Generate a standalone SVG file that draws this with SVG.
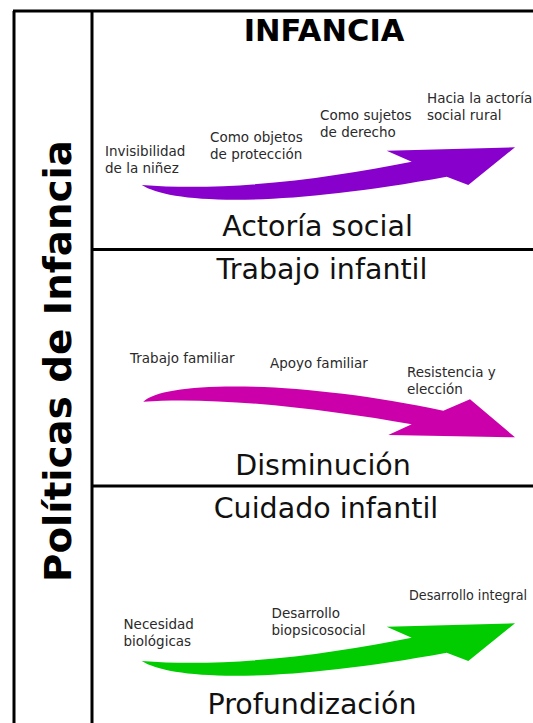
<svg xmlns="http://www.w3.org/2000/svg" width="533" height="723" viewBox="0 0 533 723">
<style>
.frame{stroke:#000;stroke-width:3;fill:none}
.big{font-family:"DejaVu Sans",Verdana,sans-serif;font-size:28.5px;fill:#111;text-anchor:middle}
.small{font-family:"DejaVu Sans",Verdana,sans-serif;font-size:13.5px;fill:#2a2a2a}
.title{font-family:"DejaVu Sans",Verdana,sans-serif;font-weight:bold;font-size:30.5px;fill:#000;text-anchor:middle}
.vert{font-family:"DejaVu Sans",Verdana,sans-serif;font-weight:bold;font-size:37px;fill:#000}
</style>
<defs>
<path id="upArrow" d="M141.7,185 C170,203 270,209 446.7,176.7 L468.3,185 L515,147.3 L386.7,150.7 L411.7,161.7 C330,178 230,192 141.7,185 Z"/>
</defs>
<rect width="533" height="723" fill="#fff"/>
<g id="frame">
<line class="frame" x1="14" y1="11" x2="14" y2="723"/>
<line class="frame" x1="13" y1="11" x2="533" y2="11"/>
<line class="frame" x1="92" y1="11" x2="92" y2="723"/>
<line class="frame" x1="92" y1="249.5" x2="533" y2="249.5"/>
<line class="frame" x1="92" y1="486" x2="533" y2="486"/>
</g>
<g id="vertical-title">
<text class="vert" transform="translate(71,582) rotate(-90)" textLength="442" lengthAdjust="spacingAndGlyphs">Políticas de Infancia</text>
</g>
<g id="title">
<text class="title" x="324" y="41">INFANCIA</text>
</g>
<g id="connectors">
<use href="#upArrow" fill="#8800cc"/>
<path fill="#cc00aa" d="M143.3,401.7 C165,380 300,380 443.3,410.7 L470,399.3 L515,437.3 L388.3,435 L411.7,424.3 C330,410 220,396 143.3,401.7 Z"/>
<use href="#upArrow" fill="#00cc00" transform="translate(0,476)"/>
</g>
<g id="panel-actoria">
<text class="small" x="105" y="156">Invisibilidad</text>
<text class="small" x="105" y="172.5">de la niñez</text>
<text class="small" x="210" y="142">Como objetos</text>
<text class="small" x="210" y="159">de protección</text>
<text class="small" x="320" y="120">Como sujetos</text>
<text class="small" x="320" y="137">de derecho</text>
<text class="small" x="427" y="103">Hacia la actoría</text>
<text class="small" x="427" y="120">social rural</text>
<text class="big" x="317.5" y="236">Actoría social</text>
</g>
<g id="panel-trabajo">
<text class="big" x="322" y="279">Trabajo infantil</text>
<text class="small" x="130" y="362.5">Trabajo familiar</text>
<text class="small" x="270" y="367.5">Apoyo familiar</text>
<text class="small" x="407" y="376.5">Resistencia y</text>
<text class="small" x="407" y="393.5">elección</text>
<text class="big" x="323" y="475">Disminución</text>
</g>
<g id="panel-cuidado">
<text class="big" x="326" y="518">Cuidado infantil</text>
<text class="small" x="409" y="600" textLength="118" lengthAdjust="spacingAndGlyphs">Desarrollo integral</text>
<text class="small" x="271.5" y="618">Desarrollo</text>
<text class="small" x="271.5" y="635">biopsicosocial</text>
<text class="small" x="123.5" y="629">Necesidad</text>
<text class="small" x="123.5" y="646">biológicas</text>
<text class="big" x="312" y="714">Profundización</text>
</g>
</svg>
